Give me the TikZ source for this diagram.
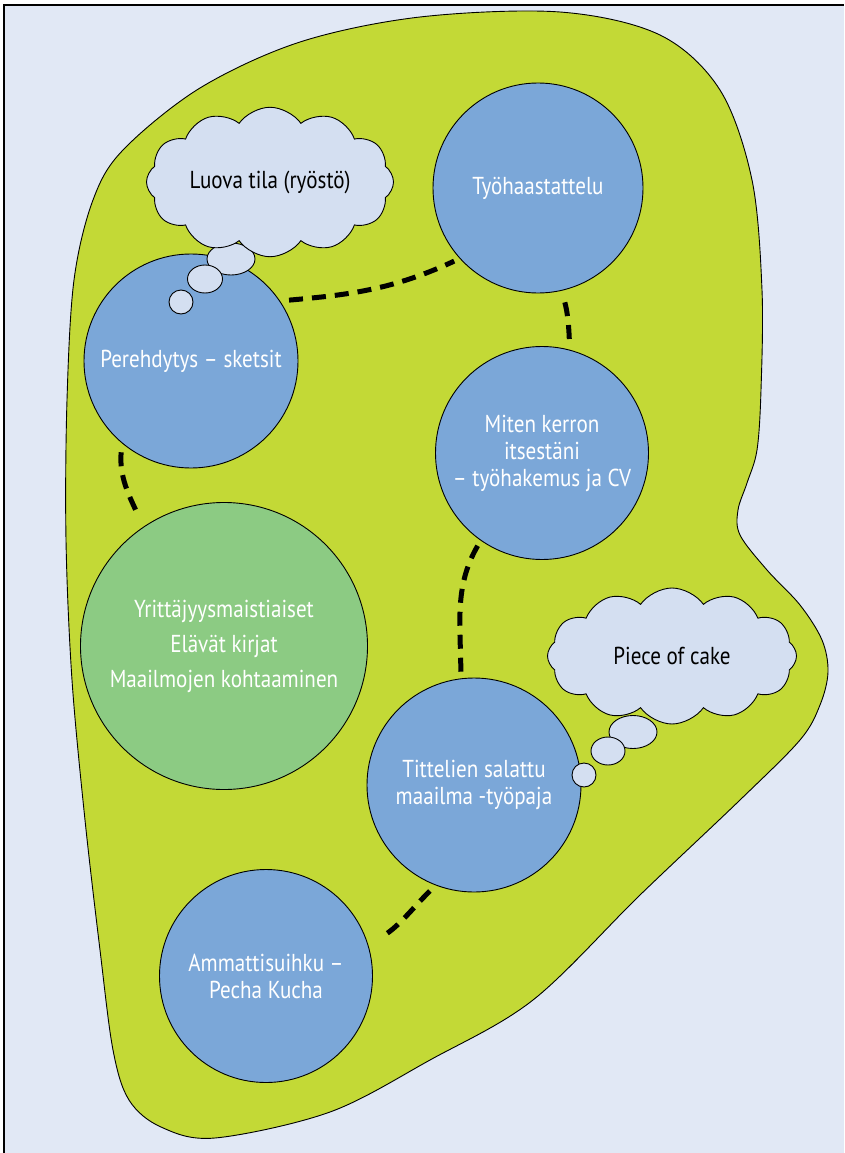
\documentclass[tikz,border=0pt]{standalone}
\usepackage{fontspec}
\setmainfont[FakeStretch=0.86]{PT Sans}
\usetikzlibrary{shapes.symbols,shapes.geometric}
\definecolor{bg}{HTML}{E1E8F5}
\definecolor{blob}{HTML}{C3D936}
\definecolor{bluec}{HTML}{7BA7D8}
\definecolor{greenc}{HTML}{8CCB83}
\definecolor{cloudc}{HTML}{D4DFF1}
\begin{document}
\begin{tikzpicture}[x=1pt,y=-1pt,
  bluecirc/.style={circle,draw=black,line width=0.9pt,fill=bluec,text=white,align=center,inner sep=0pt,font=\fontsize{24.5}{27}\selectfont},
  greencirc/.style={circle,draw=black,line width=0.9pt,fill=greenc,text=white,align=center,inner sep=0pt,font=\fontsize{24.5}{35}\selectfont},
  cloudbox/.style={cloud,cloud puffs=12,cloud puff arc=110,aspect=1.85,draw=black,line width=0.9pt,fill=cloudc,inner sep=0pt,text=black,font=\fontsize{24.5}{27}\selectfont},
  bubble/.style={ellipse,draw=black,line width=0.9pt,fill=cloudc,inner sep=0pt},
  link/.style={line width=5pt,dash pattern=on 14pt off 9pt,black}]
\useasboundingbox (0,0) rectangle (844,1153);
\fill[white] (0,0) rectangle (844,1153);
\fill[bg] (4,5) rectangle (844,1153);
\draw[line width=1.2pt] (4,1153) -- (4,5) -- (844,5);
% green blob
\draw[fill=blob,line width=0.9pt] plot[smooth cycle,tension=0.55] coordinates {
 (123,150) (200,88) (300,42) (420,17) (560,12) (660,35) (720,90) (752,180) (762,290)
 (761,390) (757,450) (747,483) (738,510) (740,535) (767,570) (800,605) (822,640)
 (828,672) (820,705) (800,740) (740,800) (640,895) (533,1000) (430,1060) (330,1112)
 (215,1138) (161,1127) (129,1100) (113,1050) (100,950) (85,820) (72,680) (66,540)
 (67,400) (74,280) (93,200)};
% circles
\node[bluecirc,minimum size=210pt] (tyo) at (538,188) {Työhaastattelu};
\node[bluecirc,minimum size=214pt] (per) at (191,361) {Perehdytys – sketsit};
\node[bluecirc,minimum size=213pt] (mit) at (542,453) {Miten kerron\\itsestäni\\– työhakemus ja CV};
\node[greencirc,minimum size=287pt] (yri) at (224,646) {Yrittäjyysmaistiaiset\\Elävät kirjat\\Maailmojen kohtaaminen};
\node[bluecirc,minimum size=214pt] (tit) at (474,785) {Tittelien salattu\\maailma -työpaja};
\node[bluecirc,minimum size=213pt] (amm) at (266,976) {Ammattisuihku –\\Pecha Kucha};
% dashed links
\draw[link,shorten <=9pt,shorten >=6pt] (per.34) to[out=5,in=205] (tyo.222);
\draw[link,shorten <=12pt,shorten >=8pt] (tyo.283) to[out=-75,in=92] (mit.75);
\draw[link,shorten <=9pt,shorten >=12pt] (per.230) to[out=-95,in=115] (yri.124);
\draw[link,shorten <=6pt] (mit.235) to[out=-120,in=90] (tit.97);
\draw[link,shorten <=8pt,shorten >=14pt] (tit.249) to[out=-135,in=30] (amm.17);
% thought bubbles
\node[bubble,minimum width=48pt,minimum height=32pt] (b1a) at (231,259) {};
\node[bubble,minimum width=35pt,minimum height=28pt] (b1b) at (205,279) {};
\node[bubble,minimum width=24pt,minimum height=24pt] (b1c) at (181,302) {};
\node[bubble,minimum width=48pt,minimum height=33pt] (b2a) at (633,732) {};
\node[bubble,minimum width=34pt,minimum height=28pt] (b2b) at (608,751) {};
\node[bubble,minimum width=24pt,minimum height=24pt] (b2c) at (584,775) {};
% clouds
\node[cloudbox,minimum width=247pt,minimum height=133pt] (c1) at (270,182) {Luova tila (ryöstö)};
\node[cloudbox,minimum width=249pt,minimum height=136pt] (c2) at (672,656) {Piece of cake};
\end{tikzpicture}
\end{document}
